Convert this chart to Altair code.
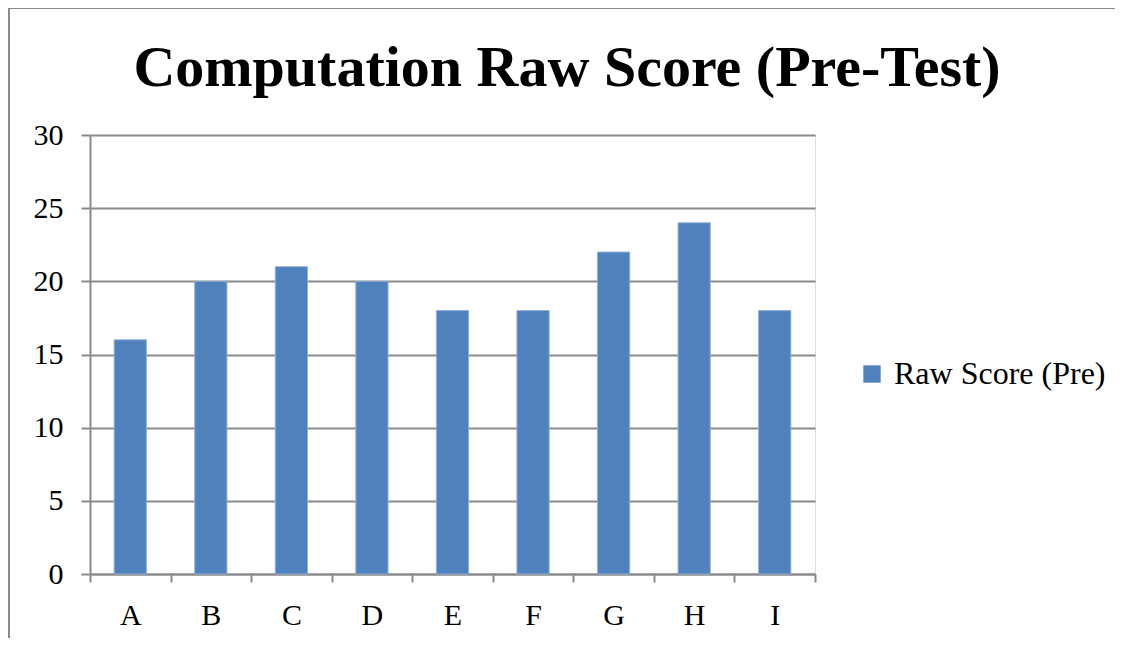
import altair as alt
import pandas as pd

categories = ["A", "B", "C", "D", "E", "F", "G", "H", "I"]
scores = [16, 20, 21, 20, 18, 18, 22, 24, 18]
series_name = "Raw Score (Pre)"
y_ticks = [0, 5, 10, 15, 20, 25, 30]
title_text = "Computation Raw Score (Pre-Test)"

df = pd.DataFrame({"cat": categories, "score": scores, "series": [series_name] * len(categories)})

FONT = "Liberation Serif"
GRID = "#8a8a8a"

bars = alt.Chart(df).mark_bar(stroke="#8fb0d8", strokeWidth=1, width={"band": 0.4}).encode(
    x=alt.X("cat:N", sort=categories, title=None,
            scale=alt.Scale(paddingInner=0, paddingOuter=0),
            axis=alt.Axis(labelAngle=0, tickBand="extent", domainColor=GRID, domainWidth=2,
                          tickColor=GRID, tickWidth=2, tickSize=8, labelFontSize=30,
                          labelFont=FONT, labelColor="#000", labelPadding=33,
                          labelBaseline="middle", grid=False)),
    y=alt.Y("score:Q", title=None,
            scale=alt.Scale(domain=[0, 30], nice=False),
            axis=alt.Axis(values=y_ticks, domainColor=GRID, domainWidth=2, tickColor=GRID,
                          tickWidth=2, tickSize=9, labelFontSize=30, labelFont=FONT,
                          labelColor="#000", labelPadding=18, gridColor=GRID, gridWidth=2)),
    color=alt.Color("series:N", title=None,
                    scale=alt.Scale(range=["#4F81BD"]),
                    legend=alt.Legend(orient="none", legendX=766, legendY=223,
                                      symbolType="square", symbolSize=300,
                                      symbolStrokeWidth=0, labelFont=FONT,
                                      labelFontSize=32, labelColor="#000",
                                      labelLimit=400, labelOffset=6)),
)

frame_df = pd.DataFrame({"k": [0]})
title_mark = alt.Chart(frame_df).mark_text(
    text=title_text, font=FONT, fontSize=58, fontWeight="bold", color="#000",
    align="center", baseline="alphabetic").encode(x=alt.value(477), y=alt.value(-49))
left_border = alt.Chart(frame_df).mark_rule(color="#8a8a8a", strokeWidth=2).encode(
    x=alt.value(-81), y=alt.value(-127), y2=alt.value(520))
top_border = alt.Chart(frame_df).mark_rule(color="#8a8a8a", strokeWidth=2).encode(
    x=alt.value(-81), x2=alt.value(1027), y=alt.value(-127))
right_border = alt.Chart(frame_df).mark_rule(color="#8a8a8a", strokeWidth=2).encode(
    x=alt.value(1027), y=alt.value(-127), y2=alt.value(520))

chart = alt.layer(bars, title_mark, left_border, top_border, right_border).properties(
    width=725, height=439,
    padding={"left": 82, "top": 127, "right": 300, "bottom": 64},
    autosize=alt.AutoSizeParams(type="none"),
).configure_view(stroke=None).configure(background="white")

chart.save("out.html", embed_options={"renderer": "svg", "actions": False})
